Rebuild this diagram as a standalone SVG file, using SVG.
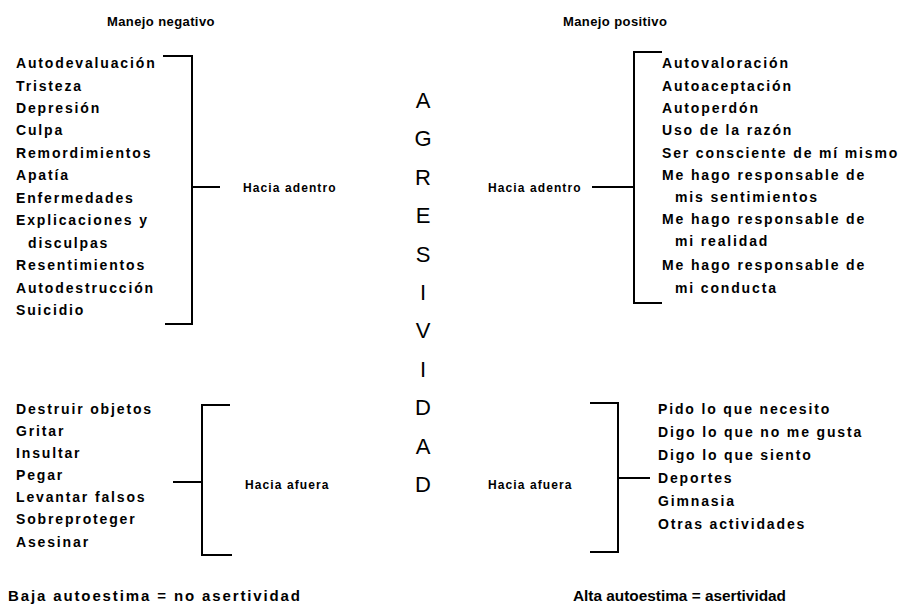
<svg xmlns="http://www.w3.org/2000/svg" width="904" height="610" viewBox="0 0 904 610">
  <style>
    text { font-family: "Liberation Sans", Arial, sans-serif; fill: #000; }
    .title { font-size: 13px; font-weight: bold; letter-spacing: 0.4px; }
    .item { font-size: 14px; font-weight: bold; letter-spacing: 1.85px; }
    .label { font-size: 12px; font-weight: bold; letter-spacing: 1.1px; }
    .big { font-size: 22px; text-anchor: middle; }
    .foot { font-size: 15px; font-weight: bold; }
    .line { fill: none; stroke: #000; stroke-width: 2; }
  </style>
  <rect width="904" height="610" fill="#fff"/>

  <!-- column headings -->
  <g id="heading-negative"><text class="title" x="107" y="26">Manejo negativo</text></g>
  <g id="heading-positive"><text class="title" x="563" y="26">Manejo positivo</text></g>

  <!-- central word -->
  <g id="agresividad">
    <text class="big" x="423" y="108">A</text>
    <text class="big" x="423" y="146.4">G</text>
    <text class="big" x="423" y="184.8">R</text>
    <text class="big" x="423" y="223.2">E</text>
    <text class="big" x="423" y="261.6">S</text>
    <text class="big" x="423" y="300">I</text>
    <text class="big" x="423" y="338.4">V</text>
    <text class="big" x="423" y="376.8">I</text>
    <text class="big" x="423" y="415.2">D</text>
    <text class="big" x="423" y="453.6">A</text>
    <text class="big" x="423" y="492">D</text>
  </g>

  <!-- negative, inward -->
  <g id="neg-inward-list">
    <text class="item" x="16" y="68">Autodevaluación</text>
    <text class="item" x="16" y="91">Tristeza</text>
    <text class="item" x="16" y="113">Depresión</text>
    <text class="item" x="16" y="135">Culpa</text>
    <text class="item" x="16" y="158">Remordimientos</text>
    <text class="item" x="16" y="180">Apatía</text>
    <text class="item" x="16" y="203">Enfermedades</text>
    <text class="item" x="16" y="225">Explicaciones y</text>
    <text class="item" x="28" y="248">disculpas</text>
    <text class="item" x="16" y="270">Resentimientos</text>
    <text class="item" x="16" y="293">Autodestrucción</text>
    <text class="item" x="16" y="315">Suicidio</text>
  </g>
  <g id="neg-inward-label"><text class="label" x="243" y="192">Hacia adentro</text></g>

  <!-- negative, outward -->
  <g id="neg-outward-list">
    <text class="item" x="16" y="414">Destruir objetos</text>
    <text class="item" x="16" y="436">Gritar</text>
    <text class="item" x="16" y="458">Insultar</text>
    <text class="item" x="16" y="480">Pegar</text>
    <text class="item" x="16" y="502">Levantar falsos</text>
    <text class="item" x="16" y="524">Sobreproteger</text>
    <text class="item" x="16" y="547">Asesinar</text>
  </g>
  <g id="neg-outward-label"><text class="label" x="245" y="489">Hacia afuera</text></g>

  <!-- positive, inward -->
  <g id="pos-inward-label"><text class="label" x="488" y="192">Hacia adentro</text></g>
  <g id="pos-inward-list">
    <text class="item" x="662" y="68">Autovaloración</text>
    <text class="item" x="662" y="91">Autoaceptación</text>
    <text class="item" x="662" y="113">Autoperdón</text>
    <text class="item" x="662" y="135">Uso de la razón</text>
    <text class="item" x="662" y="158">Ser consciente de mí mismo</text>
    <text class="item" x="662" y="180">Me hago responsable de</text>
    <text class="item" x="675" y="202">mis sentimientos</text>
    <text class="item" x="662" y="224">Me hago responsable de</text>
    <text class="item" x="675" y="246">mi realidad</text>
    <text class="item" x="662" y="270">Me hago responsable de</text>
    <text class="item" x="675" y="293">mi conducta</text>
  </g>

  <!-- positive, outward -->
  <g id="pos-outward-label"><text class="label" x="488" y="489">Hacia afuera</text></g>
  <g id="pos-outward-list">
    <text class="item" x="658" y="414">Pido lo que necesito</text>
    <text class="item" x="658" y="437">Digo lo que no me gusta</text>
    <text class="item" x="658" y="460">Digo lo que siento</text>
    <text class="item" x="658" y="483">Deportes</text>
    <text class="item" x="658" y="506">Gimnasia</text>
    <text class="item" x="658" y="529">Otras actividades</text>
  </g>

  <!-- conclusions -->
  <g id="foot-negative"><text class="foot" x="8" y="601" textLength="292" lengthAdjust="spacing">Baja autoestima = no asertividad</text></g>
  <g id="foot-positive"><text class="foot" x="573" y="601" textLength="213" lengthAdjust="spacingAndGlyphs">Alta autoestima = asertividad</text></g>

  <!-- brackets and their ticks -->
  <g id="connectors">
    <path class="line" d="M163 56 H192 V324 H165"/>
    <path class="line" d="M192 187 H220"/>
    <path class="line" d="M230 405 H202 V555 H232"/>
    <path class="line" d="M173 482 H202"/>
    <path class="line" d="M662 52 H634 V303 H662"/>
    <path class="line" d="M592 187 H634"/>
    <path class="line" d="M590 403 H618 V552 H590"/>
    <path class="line" d="M618 478 H650"/>
  </g>
</svg>
